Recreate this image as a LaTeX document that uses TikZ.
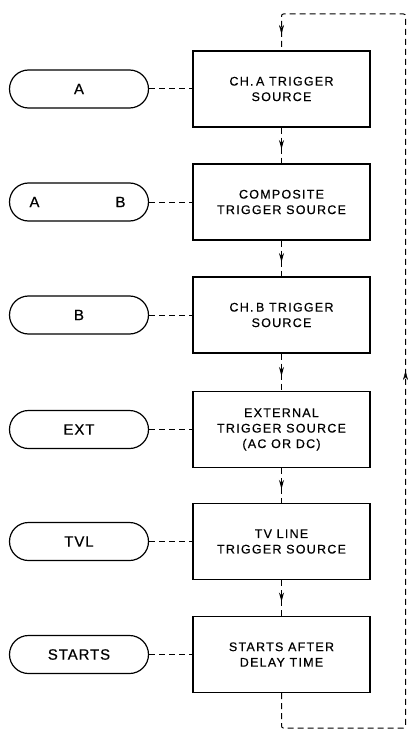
\documentclass[tikz,border=0pt]{standalone}
\usepackage{fontspec}
\setmainfont{Liberation Sans}[LetterSpace=6,FakeBold=0.6]
\newfontfamily\boxfont{Liberation Sans}[LetterSpace=10,FakeBold=0.5]
\usetikzlibrary{arrows.meta,decorations.markings}
\tikzset{mytip/.tip={Stealth[length=9pt,width=5pt]}}
\begin{document}
\begin{tikzpicture}[x=1pt,y=-1pt,
  stepbox/.style={draw,line width=1.3pt,minimum width=177pt,minimum height=76pt,align=center,font=\boxfont\fontsize{12.5}{15.5}\selectfont,inner sep=0pt},
  pill/.style={draw,line width=1.2pt,rounded corners=19pt,minimum width=139pt,minimum height=38pt,font=\fontsize{15}{16}\selectfont,inner sep=0pt},
  dline/.style={dashed,dash pattern=on 6pt off 4pt,line width=1pt},
  midarrow/.style={dline,postaction={decorate},decoration={markings,mark=at position #1 with {\arrow{mytip}}}}
]
\useasboundingbox (0,0) rectangle (407,730);
\node[stepbox] (b1) at (281.5,89) {CH.\hspace{2.5pt}A TRIGGER\\SOURCE};
\node[stepbox] (b2) at (281.5,202) {COMPOSITE\\TRIGGER SOURCE};
\node[stepbox] (b3) at (281.5,315) {CH.\hspace{2.5pt}B TRIGGER\\SOURCE};
\node[stepbox] (b4) at (281.5,429.5) {EXTERNAL\\TRIGGER SOURCE\\(AC OR DC)};
\node[stepbox] (b5) at (281.5,541.5) {TV LINE\\TRIGGER SOURCE};
\node[stepbox] (b6) at (281.5,654.5) {STARTS AFTER\\DELAY TIME};

\node[pill] (p1) at (79,89) {A};
\node[pill] (p2) at (79,202) {\hspace*{-3pt}A\hspace{76pt}B};
\node[pill] (p3) at (79,315) {B};
\node[pill] (p4) at (79,429.5) {EXT};
\node[pill] (p5) at (79,541.5) {TVL};
\node[pill] (p6) at (79,654.5) {STARTS};

\foreach \i in {1,...,6} \draw[dline] (p\i.east) -- (b\i.west);
\foreach \i/\j in {1/2,2/3,3/4,4/5,5/6} \draw[midarrow=0.6] (b\i.south) -- (b\j.north);

\coordinate (tl) at (281.5,14);
\coordinate (tr) at (405.5,14);
\coordinate (br) at (405.5,728);
\coordinate (bl) at (281.5,728);
\draw[dline,rounded corners=2pt] (b6.south) -- (bl) -- (br) -- (tr) -- (tl) -- (b1.north);
\draw[draw=none,postaction={decorate},decoration={markings,mark=at position 0.55 with {\arrow{mytip}}}] (tl) -- (b1.north);
\draw[draw=none,postaction={decorate},decoration={markings,mark=at position 0.5 with {\arrow{mytip}}}] (br) -- (tr);
\end{tikzpicture}
\end{document}
